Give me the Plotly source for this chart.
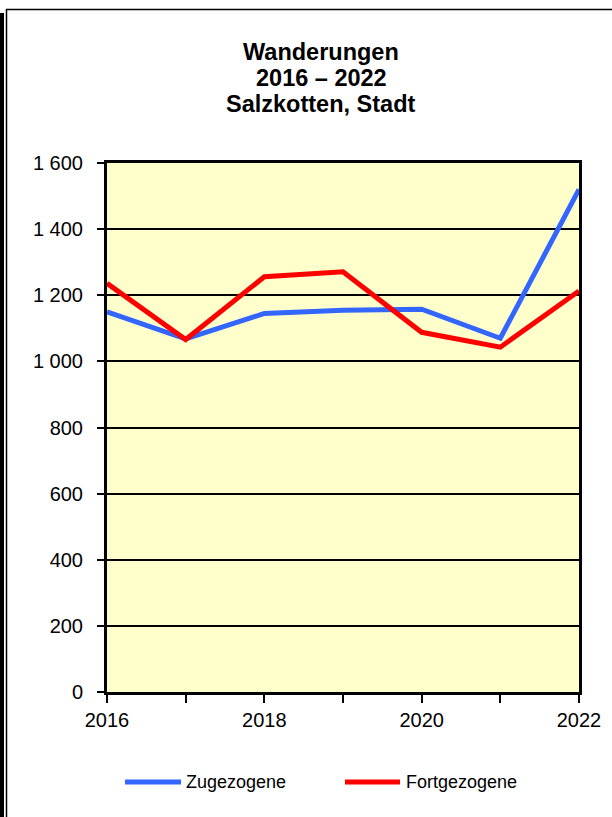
import plotly.graph_objects as go

years = [2016, 2017, 2018, 2019, 2020, 2021, 2022]
zugezogene = [1150, 1068, 1145, 1155, 1158, 1070, 1520]
fortgezogene = [1236, 1066, 1256, 1271, 1088, 1043, 1213]
y_tickvals = [0, 200, 400, 600, 800, 1000, 1200, 1400, 1600]
y_ticktext = ["0", "200", "400", "600", "800", "1 000", "1 200", "1 400", "1 600"]
x_tickvals = [2016, 2018, 2020, 2022]
title_lines = ["Wanderungen", "2016 – 2022", "Salzkotten, Stadt"]
series_names = ["Zugezogene", "Fortgezogene"]
colors = ["#3366FF", "#FF0000"]

W, H = 612, 817
L, R, T, B = 107, 579, 163, 692


def px(x):
    return (x - L) / (R - L)


def py(y):
    return (B - y) / (B - T)


fig = go.Figure()
for name, vals, col in zip(series_names, [zugezogene, fortgezogene], colors):
    fig.add_trace(go.Scatter(x=years, y=vals, mode="lines", name=name,
                             line=dict(color=col, width=5), showlegend=False))

shapes = []
# outer frame
shapes.append(dict(type="line", xref="paper", yref="paper", x0=px(2), x1=px(2), y0=py(13), y1=py(817),
                   line=dict(color="black", width=4)))
shapes.append(dict(type="line", xref="paper", yref="paper", x0=px(6.5), x1=px(6.5), y0=py(9), y1=py(817),
                   line=dict(color="black", width=1.5)))
shapes.append(dict(type="line", xref="paper", yref="paper", x0=px(6), x1=px(612), y0=py(9.5), y1=py(9.5),
                   line=dict(color="black", width=1.5)))

annotations = []
title_y = [52, 78, 104]
for txt, yy in zip(title_lines, title_y):
    annotations.append(dict(text="<b>%s</b>" % txt, xref="paper", yref="paper", x=px(321), y=py(yy),
                            xanchor="center", yanchor="middle", showarrow=False,
                            font=dict(family="Liberation Sans, Arial", size=23.5, color="black")))

# legend (manual)
leg = [(125, 181, 184), (345, 400, 404)]
for (x0, x1, xt), name, col in zip(leg, series_names, colors):
    shapes.append(dict(type="line", xref="paper", yref="paper", x0=px(x0), x1=px(x1), y0=py(782), y1=py(782),
                       line=dict(color=col, width=5)))
    annotations.append(dict(text=name, xref="paper", yref="paper", x=px(xt), y=py(782),
                            xanchor="left", yanchor="middle", showarrow=False,
                            font=dict(family="Liberation Sans, Arial", size=18, color="black")))

fig.update_layout(
    width=W, height=H,
    margin=dict(l=L, r=W - R, t=T, b=H - B, pad=0),
    paper_bgcolor="white", plot_bgcolor="#FFFFCC",
    font=dict(family="Liberation Sans, Arial", size=20, color="black"),
    shapes=shapes, annotations=annotations, showlegend=False,
)
fig.update_xaxes(range=[2016, 2022], tickvals=x_tickvals, ticks="outside", ticklen=8, tickwidth=2,
                 tickcolor="black", showgrid=False, showline=True, linecolor="black", linewidth=3,
                 mirror=True, zeroline=False, ticklabelstandoff=0,
                 minor=dict(tickvals=years, ticks="outside", ticklen=8, tickwidth=2, tickcolor="black",
                            showgrid=False),
                 tickfont=dict(size=20))
fig.update_yaxes(range=[0, 1600], tickvals=y_tickvals, ticktext=y_ticktext, ticks="outside", ticklen=7,
                 tickwidth=2, tickcolor="black", showgrid=True, gridcolor="black", gridwidth=2,
                 showline=True, linecolor="black", linewidth=3, mirror=True, zeroline=False,
                 ticklabelstandoff=10, tickfont=dict(size=20))

fig.write_html("out.html", config={"displayModeBar": False},
               post_script="document.body.style.margin='0';document.body.style.overflow='hidden';")
